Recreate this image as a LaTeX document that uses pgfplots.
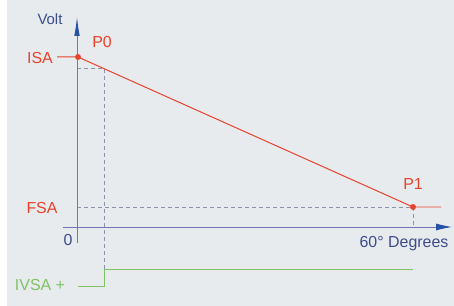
\documentclass[border=0pt]{standalone}
\usepackage{pgfplots}
\pgfplotsset{compat=1.18}
\usepackage{fontspec}
\setmainfont{Liberation Sans}
\usetikzlibrary{arrows.meta}
\definecolor{bg}{HTML}{E8EBEE}
\definecolor{axl}{HTML}{7474BC}
\definecolor{axh}{HTML}{2452A4}
\definecolor{redc}{HTML}{E8412C}
\definecolor{grn}{HTML}{7DC264}
\definecolor{dsh}{HTML}{8A93A8}
\definecolor{lbl}{HTML}{3B4C8C}
\begin{document}
\begin{tikzpicture}
\begin{axis}[
  width=454bp, height=306bp, scale only axis,
  xmin=0, xmax=454, ymin=0, ymax=306,
  hide axis, clip=false, anchor=south west, at={(0,0)},
]
\fill[bg] (axis cs:7,0) rectangle (axis cs:454,306);
% dashed guides
\addplot[dsh, line width=0.8pt, dash pattern=on 4bp off 3bp] coordinates {(77,238) (104,238) (104,37)};
\addplot[dsh, line width=0.8pt, dash pattern=on 4bp off 3bp] coordinates {(77,99) (413,99) (413,79)};
% axes
\addplot[axl, line width=0.8pt, -{Latex[length=16bp,width=7bp,color=axh]}] coordinates {(63,79) (452,79)};
\addplot[axl, line width=0.8pt, -{Latex[length=19bp,width=5.5bp,color=axh]}] coordinates {(77,63) (77,289)};
% red curve
\addplot[redc, line width=1pt] coordinates {(57,249) (78,249) (413,99) (441,99)};
\addplot[redc, only marks, mark=*, mark size=2.7bp] coordinates {(78,249) (413,99)};
% green signal
\addplot[grn, line width=1pt] coordinates {(78,20) (104,20) (104,37) (413,37)};
% labels
\node[lbl, font=\fontsize{15}{17}\selectfont] at (axis cs:50,287) {Volt};
\node[redc, font=\fontsize{16}{18}\selectfont] at (axis cs:102,264) {P0};
\node[redc, font=\fontsize{16}{18}\selectfont] at (axis cs:40,248) {ISA};
\node[redc, font=\fontsize{16}{18}\selectfont] at (axis cs:42,98) {FSA};
\node[lbl, font=\fontsize{16}{18}\selectfont] at (axis cs:68,66) {0};
\node[lbl, font=\fontsize{16}{18}\selectfont] at (axis cs:404,62) {60° Degrees};
\node[redc, font=\fontsize{16}{18}\selectfont] at (axis cs:413,122) {P1};
\node[grn, font=\fontsize{16}{18}\selectfont] at (axis cs:40,21) {IVSA +};
\end{axis}
\pgfresetboundingbox
\path (0,0) rectangle (454bp,306bp);
\end{tikzpicture}
\end{document}
